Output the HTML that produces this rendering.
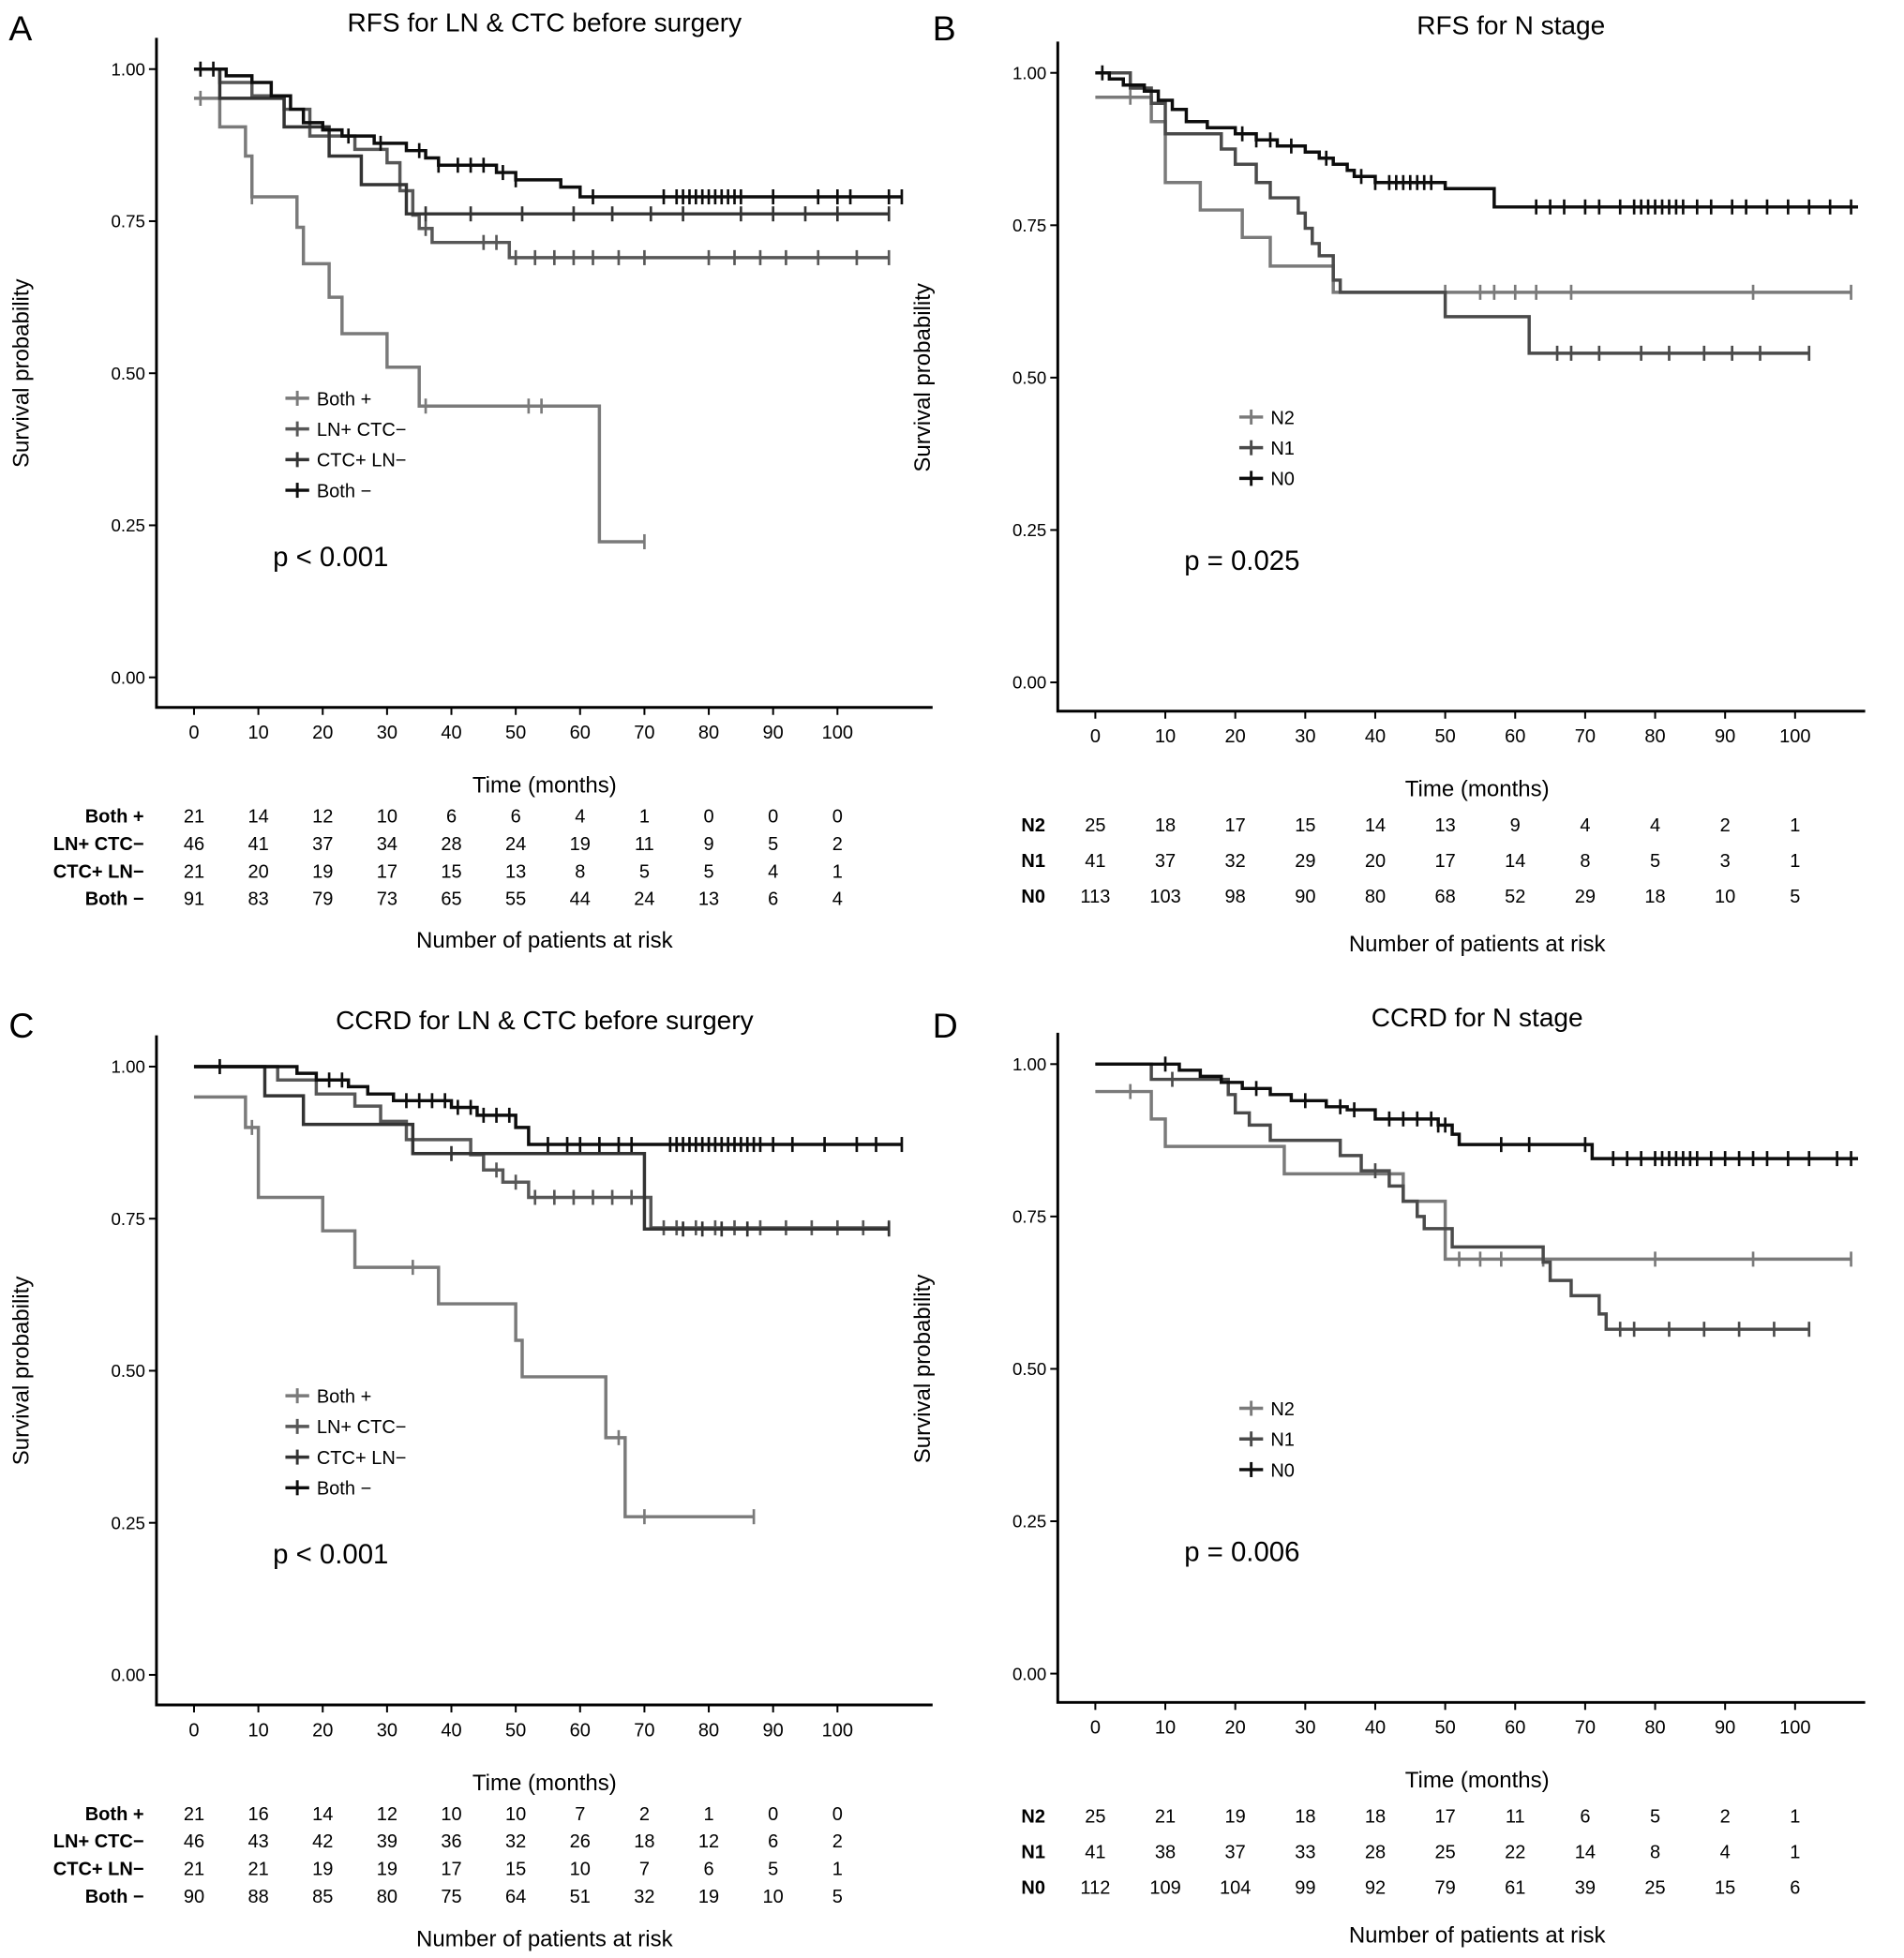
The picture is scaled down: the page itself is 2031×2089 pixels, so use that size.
<!DOCTYPE html>
<html><head><meta charset="utf-8">
<style>
html,body{margin:0;padding:0;background:#fff;}
svg{display:block;font-family:"Liberation Sans",Arial,sans-serif;}
</style></head>
<body>
<svg id="fig" width="2031" height="2089" viewBox="0 0 1521 1564" xmlns="http://www.w3.org/2000/svg"></svg>
<script>
// ---------- data ----------
const tickMonths = [0,10,20,30,40,50,60,70,80,90,100];
const survTicks = [1.00,0.75,0.50,0.25,0.00];
const survTickLabels = ["1.00","0.75","0.50","0.25","0.00"];

const groupsLC = ["Both +","LN+ CTC\u2212","CTC+ LN\u2212","Both \u2212"];
const groupsN = ["N2","N1","N0"];

// Panel A: RFS LN & CTC  (step points [time, survival], censor times, end time)
const aBothPosSteps = [[0,0.952],[4,0.905],[8,0.857],[9,0.79],[16,0.74],[17,0.68],[21,0.625],[23,0.565],[30,0.51],[35,0.446],[63,0.223]];
const aBothPosCens = [1,9,36,52,54,70];
const aBothPosEnd = 70;
const aLnPosSteps = [[0,1],[4,0.978],[9,0.956],[14,0.934],[18,0.89],[25,0.868],[30,0.846],[32,0.80],[34,0.76],[35,0.738],[37,0.715],[49,0.69]];
const aLnPosCens = [36,45,47,50,53,56,59,62,66,70,80,84,88,92,97,103,108];
const aLnPosEnd = 108;
const aCtcPosSteps = [[0,1],[4,0.952],[14,0.905],[21,0.857],[26,0.81],[33,0.762]];
const aCtcPosCens = [36,43,51,59,65,71,76,85,90,95,100,108];
const aCtcPosEnd = 108;
const aBothNegSteps = [[0,1],[5,0.989],[9,0.978],[12,0.956],[15,0.934],[17,0.912],[20,0.90],[23,0.89],[28,0.878],[33,0.866],[36,0.854],[38,0.842],[47,0.83],[50,0.818],[57,0.806],[60,0.79]];
const aBothNegCens = [1,3,24,29,35,38,41,43,45,48,50,62,73,75,76,77,78,79,80,81,82,83,84,85,90,97,100,102,108,110];
const aBothNegEnd = 110;
const aRisk = [[21,14,12,10,6,6,4,1,0,0,0],[46,41,37,34,28,24,19,11,9,5,2],[21,20,19,17,15,13,8,5,5,4,1],[91,83,79,73,65,55,44,24,13,6,4]];

// Panel B: RFS N stage
const bN2Steps = [[0,0.96],[8,0.92],[10,0.82],[15,0.775],[21,0.73],[25,0.683],[34,0.64]];
const bN2Cens = [5,50,55,57,60,63,68,94,108];
const bN2End = 108;
const bN1Steps = [[0,1],[5,0.975],[8,0.95],[10,0.90],[18,0.875],[20,0.85],[23,0.82],[25,0.795],[29,0.77],[30,0.745],[31,0.72],[32,0.70],[34,0.66],[35,0.64],[50,0.60],[62,0.54]];
const bN1Cens = [66,68,72,78,82,87,91,95,102];
const bN1End = 102;
const bN0Steps = [[0,1],[2,0.99],[4,0.98],[7,0.97],[9,0.955],[11,0.94],[13,0.92],[16,0.91],[20,0.90],[23,0.89],[26,0.88],[30,0.87],[32,0.86],[34,0.85],[36,0.84],[37,0.83],[40,0.82],[50,0.81],[57,0.78]];
const bN0Cens = [1,21,23,25,28,33,38,40,42,43,44,45,46,47,48,63,65,67,70,72,75,77,78,79,80,81,82,83,84,86,88,91,93,96,99,102,105,108];
const bN0End = 109;
const bRisk = [[25,18,17,15,14,13,9,4,4,2,1],[41,37,32,29,20,17,14,8,5,3,1],[113,103,98,90,80,68,52,29,18,10,5]];

// Panel C: CCRD LN & CTC
const cBothPosSteps = [[0,0.95],[8,0.90],[10,0.785],[20,0.73],[25,0.67],[38,0.61],[50,0.55],[51,0.49],[64,0.39],[67,0.26]];
const cBothPosCens = [9,34,66,70,87];
const cBothPosEnd = 87;
const cLnPosSteps = [[0,1],[13,0.978],[19,0.955],[25,0.935],[29,0.91],[33,0.88],[43,0.855],[45,0.83],[48,0.81],[52,0.785],[71,0.735]];
const cLnPosCens = [47,50,53,56,59,62,65,68,73,75,78,81,84,88,92,96,100,104,108];
const cLnPosEnd = 108;
const cCtcPosSteps = [[0,1],[11,0.952],[17,0.905],[34,0.857],[70,0.733]];
const cCtcPosCens = [40,76,79,82,86,108];
const cCtcPosEnd = 108;
const cBothNegSteps = [[0,1],[16,0.989],[19,0.978],[24,0.967],[27,0.955],[31,0.944],[40,0.933],[44,0.92],[50,0.90],[52,0.872]];
const cBothNegCens = [4,21,23,33,35,37,39,41,43,45,47,49,55,58,60,63,66,68,74,75,76,77,78,79,80,81,82,83,84,85,86,87,88,90,93,98,103,106,110];
const cBothNegEnd = 110;
const cRisk = [[21,16,14,12,10,10,7,2,1,0,0],[46,43,42,39,36,32,26,18,12,6,2],[21,21,19,19,17,15,10,7,6,5,1],[90,88,85,80,75,64,51,32,19,10,5]];

// Panel D: CCRD N stage
const dN2Steps = [[0,0.955],[8,0.91],[10,0.865],[27,0.82],[44,0.775],[50,0.68]];
const dN2Cens = [5,52,55,58,64,80,94,108];
const dN2End = 108;
const dN1Steps = [[0,1],[8,0.975],[19,0.95],[20,0.92],[22,0.90],[25,0.875],[35,0.85],[38,0.825],[42,0.80],[44,0.775],[46,0.75],[47,0.73],[51,0.70],[64,0.675],[65,0.645],[68,0.62],[72,0.59],[73,0.565]];
const dN1Cens = [11,40,75,77,82,87,92,97,102];
const dN1End = 102;
const dN0Steps = [[0,1],[12,0.99],[15,0.98],[18,0.97],[21,0.96],[25,0.95],[28,0.94],[33,0.93],[36,0.925],[40,0.91],[49,0.90],[51,0.885],[52,0.868],[71,0.845]];
const dN0Cens = [10,23,30,35,37,42,44,46,48,49,50,58,62,70,74,76,78,80,81,82,83,84,85,86,88,90,92,94,96,99,102,106,108];
const dN0End = 109;
const dRisk = [[25,21,19,18,18,17,11,6,5,2,1],[41,38,37,33,28,25,22,14,8,4,1],[112,109,104,99,92,79,61,39,25,15,6]];

// ---------- drawing ----------
const NS = "http://www.w3.org/2000/svg";
const svg = document.getElementById('fig');
function mk(tag, attrs, parent, text){
  const e = document.createElementNS(NS, tag);
  for (const k in attrs) e.setAttribute(k, attrs[k]);
  if (text !== undefined) e.textContent = text;
  (parent||svg).appendChild(e);
  return e;
}
const COLORS4 = ["#7a7a7a","#575757","#333333","#0d0d0d"];
const COLORS3 = ["#7a7a7a","#4a4a4a","#0d0d0d"];

function drawPanel(p){
  const g = mk('g', {});
  
  
  const xs = t => p.x0 + t * p.pxm;
  const ys = s => p.y0 + (p.y1 - p.y0) * s;
  // letter & title
  const L = mk('text', {x:p.lx, y:p.ly, 'font-size':28}, g, p.id);
  
  
  const T = mk('text', {x:p.tx, y:p.ty, 'font-size':21, 'text-anchor':'middle'}, g, p.title);
  
  
  // axes
  const ax = mk('path', {d:`M${p.ax} ${p.axTop} V${p.axY} H${p.axRight}`, stroke:'#000', 'stroke-width':2.2, fill:'none'}, g);
  
  
  survTicks.forEach((s,i)=>{
    mk('line', {x1:p.ax-6, x2:p.ax, y1:ys(s), y2:ys(s), stroke:'#000', 'stroke-width':1.5}, g);
    const t = mk('text', {x:p.ax-9, y:ys(s)+5, 'font-size':14, 'text-anchor':'end'}, g, survTickLabels[i]);
    
    
  });
  tickMonths.forEach(m=>{
    mk('line', {x1:xs(m), x2:xs(m), y1:p.axY, y2:p.axY+6, stroke:'#000', 'stroke-width':1.5}, g);
    const t = mk('text', {x:xs(m), y:p.axY+25, 'font-size':15, 'text-anchor':'middle'}, g, String(m));
    
    
  });
  const yt = mk('text', {x:0, y:0, 'font-size':18, 'text-anchor':'middle', transform:`translate(${p.ax-102},${ys(0.5)}) rotate(-90)`}, g, 'Survival probability');
  
  
  const xt = mk('text', {x:p.ctr, y:p.axY+68, 'font-size':18, 'text-anchor':'middle'}, g, 'Time (months)');
  
  
  // curves
  p.series.forEach((se,i)=>{
    let d = '';
    se.steps.forEach((pt,j)=>{
      if (j===0) d += `M${xs(pt[0])} ${ys(pt[1])}`;
      else d += ` H${xs(pt[0])} V${ys(pt[1])}`;
    });
    d += ` H${xs(se.end)}`;
    const c = mk('path', {d, stroke:p.colors[i], 'stroke-width':2.6, fill:'none'}, g);
    
    
    se.cens.forEach(t=>{
      let s = se.steps[0][1];
      se.steps.forEach(pt=>{ if (pt[0] <= t) s = pt[1]; });
      const m = mk('line', {x1:xs(t), x2:xs(t), y1:ys(s)-6, y2:ys(s)+6, stroke:p.colors[i], 'stroke-width':2}, g);
      
      
    });
  });
  // legend
  p.names.forEach((n,i)=>{
    const y = p.legY + i*24.5;
    const lg = mk('g', {}, g);
    
    
    mk('line', {x1:p.legX, x2:p.legX+19, y1:y, y2:y, stroke:p.colors[i], 'stroke-width':2.6}, lg);
    mk('line', {x1:p.legX+9.5, x2:p.legX+9.5, y1:y-6, y2:y+6, stroke:p.colors[i], 'stroke-width':2.2}, lg);
    mk('text', {x:p.legX+25, y:y+5.5, 'font-size':15}, lg, n);
  });
  const pv = mk('text', {x:p.px, y:p.py, 'font-size':22}, g, p.pval);
  
  
  // risk table
  p.risk.forEach((row,i)=>{
    const y = p.riskY + i*p.riskDy;
    const lb = mk('text', {x:p.ax-10, y:y+5, 'font-size':15, 'font-weight':'bold', 'text-anchor':'end'}, g, p.names[i]);
    
    
    row.forEach((v,j)=>{
      const c = mk('text', {x:xs(tickMonths[j]), y:y+5, 'font-size':15, 'text-anchor':'middle'}, g, String(v));
      
      
    });
  });
  const rt = mk('text', {x:p.ctr, y:p.riskTitleY, 'font-size':18, 'text-anchor':'middle'}, g, 'Number of patients at risk');
  
  
}

drawPanel({id:'A', title:'RFS for LN & CTC before surgery', lx:7, ly:32, tx:435, ty:25,
  x0:155, pxm:5.14, y1:55, y0:541, ax:125, axTop:30, axY:565, axRight:745, ctr:435,
  names:groupsLC, colors:COLORS4,
  series:[{steps:aBothPosSteps,cens:aBothPosCens,end:aBothPosEnd},{steps:aLnPosSteps,cens:aLnPosCens,end:aLnPosEnd},{steps:aCtcPosSteps,cens:aCtcPosCens,end:aCtcPosEnd},{steps:aBothNegSteps,cens:aBothNegCens,end:aBothNegEnd}],
  legX:228, legY:318, px:218, py:452, pval:'p < 0.001',
  risk:aRisk, riskY:652, riskDy:22, riskTitleY:757});
drawPanel({id:'B', title:'RFS for N stage', lx:745, ly:32, tx:1207, ty:27,
  x0:875, pxm:5.59, y1:58, y0:545, ax:845, axTop:33, axY:568, axRight:1490, ctr:1180,
  names:groupsN, colors:COLORS3,
  series:[{steps:bN2Steps,cens:bN2Cens,end:bN2End},{steps:bN1Steps,cens:bN1Cens,end:bN1End},{steps:bN0Steps,cens:bN0Cens,end:bN0End}],
  legX:990, legY:333, px:946, py:455, pval:'p = 0.025',
  risk:bRisk, riskY:659, riskDy:28.5, riskTitleY:760});
drawPanel({id:'C', title:'CCRD for LN & CTC before surgery', lx:7, ly:829, tx:435, ty:822,
  x0:155, pxm:5.14, y1:852, y0:1338, ax:125, axTop:827, axY:1362, axRight:745, ctr:435,
  names:groupsLC, colors:COLORS4,
  series:[{steps:cBothPosSteps,cens:cBothPosCens,end:cBothPosEnd},{steps:cLnPosSteps,cens:cLnPosCens,end:cLnPosEnd},{steps:cCtcPosSteps,cens:cCtcPosCens,end:cCtcPosEnd},{steps:cBothNegSteps,cens:cBothNegCens,end:cBothNegEnd}],
  legX:228, legY:1115, px:218, py:1249, pval:'p < 0.001',
  risk:cRisk, riskY:1449, riskDy:22, riskTitleY:1555});
drawPanel({id:'D', title:'CCRD for N stage', lx:745, ly:829, tx:1180, ty:820,
  x0:875, pxm:5.59, y1:850, y0:1337, ax:845, axTop:825, axY:1360, axRight:1490, ctr:1180,
  names:groupsN, colors:COLORS3,
  series:[{steps:dN2Steps,cens:dN2Cens,end:dN2End},{steps:dN1Steps,cens:dN1Cens,end:dN1End},{steps:dN0Steps,cens:dN0Cens,end:dN0End}],
  legX:990, legY:1125, px:946, py:1247, pval:'p = 0.006',
  risk:dRisk, riskY:1451, riskDy:28.5, riskTitleY:1552});
</script>
</body></html>
